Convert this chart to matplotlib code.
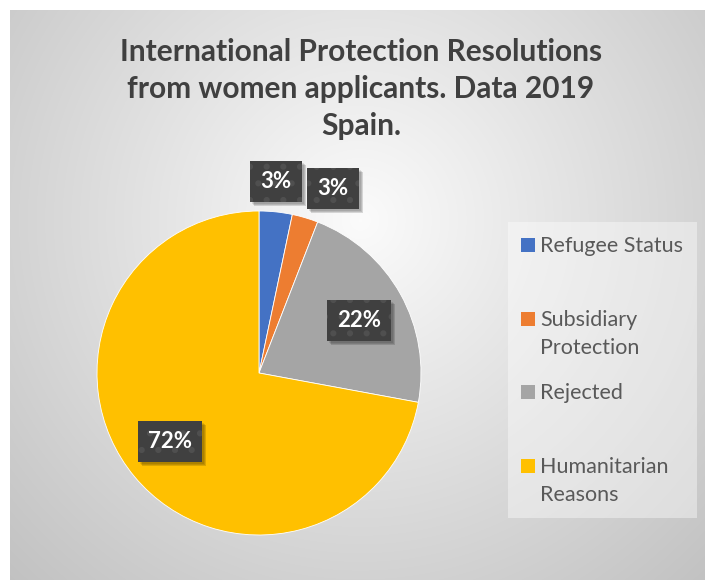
import matplotlib
matplotlib.use("Agg")
import matplotlib.pyplot as plt
from matplotlib.patches import Rectangle
from matplotlib.transforms import IdentityTransform
import numpy as np

plt.rcParams['font.family'] = ['Lato', 'DejaVu Sans']
plt.rcParams['hatch.linewidth'] = 2.0

# data
categories = ['Refugee Status', 'Subsidiary\nProtection', 'Rejected', 'Humanitarian\nReasons']
shares = [3.3, 2.6, 22.0, 72.1]
colors = ['#4472C4', '#ED7D31', '#A5A5A5', '#FFC000']
title_lines = ['International Protection Resolutions',
               'from women applicants. Data 2019',
               'Spain.']

# where the data labels sit (pie data units)
label_pos = [(0.105, 1.185), (0.457, 1.136), (0.617, 0.321), (-0.549, -0.420)]

W, H = 705, 580
fig = plt.figure(figsize=(W / 100, H / 100), dpi=100, facecolor='white')

# background: radial grey gradient inside the chart area
bg = fig.add_axes([0, 0, 1, 1], zorder=0)
yy, xx = np.mgrid[0:H, 0:W]
d = np.sqrt((xx - 360) ** 2 + (yy - 220) ** 2) / 500
d = np.clip(d, 0, 1)
c0, c1 = 0.985, 0.76
img = c0 + (c1 - c0) * d
rgb = np.dstack([img, img, img])
rgb[:10, :, :] = 1.0
rgb[:, :10, :] = 1.0
bg.imshow(rgb, extent=(0, W, H, 0), interpolation='bilinear')
bg.set_xlim(0, W)
bg.set_ylim(H, 0)
bg.axis('off')

# pie
cx, cy, r = 259, 373, 162
ax = fig.add_axes([(cx - r) / W, (H - cy - r) / H, 2 * r / W, 2 * r / H], zorder=1)
ax.pie(shares, colors=colors, startangle=90, counterclock=False,
       wedgeprops=dict(edgecolor='white', linewidth=0.6))
ax.set_xlim(-1, 1)
ax.set_ylim(-1, 1)
ax.set_aspect('equal')
ax.axis('off')

total = sum(shares)
labels = []
for v, (lx, ly) in zip(shares, label_pos):
    t = ax.text(lx, ly, f"{v / total * 100:.0f}%", ha='center', va='center',
                fontsize=16, fontweight='bold', color='white', zorder=5,
                bbox=dict(boxstyle='square,pad=0.45', fc='#404040', ec='#4f4f4f',
                          lw=0, hatch='.'))
    labels.append(t)

# soft shadows under the label boxes (display pixels)
fig.canvas.draw()
renderer = fig.canvas.get_renderer()
for t in labels:
    bb = t.get_bbox_patch().get_window_extent(renderer)
    for k, a in [(0, 0.10), (1, 0.12), (2, 0.14)]:
        ax.add_patch(Rectangle((bb.x0 + 2 + k, bb.y0 - 2 - k), bb.width, bb.height,
                               fc='black', ec='none', alpha=a, zorder=4,
                               transform=IdentityTransform(), clip_on=False))

# overlay in pixel coordinates for title and legend
ov = fig.add_axes([0, 0, 1, 1], zorder=2)
ov.set_xlim(0, W)
ov.set_ylim(H, 0)
ov.patch.set_alpha(0)
ov.axis('off')

for i, line in enumerate(title_lines):
    ov.text(361, 52 + i * 37, line, ha='center', va='center',
            fontsize=21.5, fontweight='bold', color='#404040')

ov.add_patch(Rectangle((508, 222), 189, 296, fc='white', ec='none', alpha=0.4))
for i, (lab, col) in enumerate(zip(categories, colors)):
    top = 238 + i * 73.7
    ov.add_patch(Rectangle((521, top), 14, 14, fc=col, ec='none'))
    ov.text(540, top - 2, lab, ha='left', va='top', fontsize=15.5,
            color='#595959', linespacing=1.5)

fig.savefig('out.png', dpi=100, facecolor='white')
